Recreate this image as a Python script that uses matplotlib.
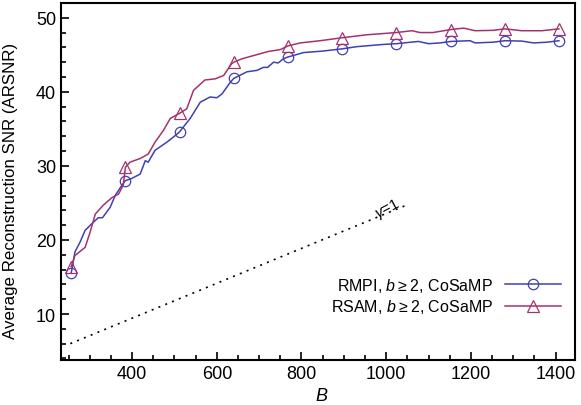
import numpy as np
import matplotlib
matplotlib.use("Agg")
from matplotlib import pyplot as plt

plt.rcParams['font.family'] = ['Liberation Sans', 'DejaVu Sans']
plt.rcParams['mathtext.fontset'] = 'custom'
plt.rcParams['mathtext.rm'] = 'Liberation Sans'
plt.rcParams['mathtext.it'] = 'Liberation Sans:italic'

# RMPI, b>=2, CoSaMP
rmpi_B = [256, 265, 277, 289, 305, 320, 330, 348, 360, 376, 384, 399, 419, 431, 438,
          454, 482, 502, 512, 537, 561, 584, 600, 612, 632, 640, 671, 695, 710, 720,
          734, 745, 757, 768, 805, 850, 896, 931, 994, 1024, 1076, 1100, 1127, 1152,
          1198, 1210, 1253, 1280, 1320, 1348, 1380, 1408]
rmpi_snr = [15.5, 18.4, 19.7, 21.3, 22.2, 23.0, 23.0, 24.4, 26.0, 27.4, 28.0, 28.3, 28.9, 30.7, 30.5,
            32.1, 33.2, 34.1, 34.6, 36.4, 38.6, 39.3, 39.2, 39.7, 41.3, 41.8, 42.7, 42.9, 43.3, 43.3,
            44.0, 43.9, 44.45, 44.7, 45.3, 45.5, 45.8, 46.1, 46.4, 46.5, 46.8, 46.5, 46.6, 46.8,
            46.9, 46.6, 46.7, 46.9, 46.85, 46.6, 46.7, 46.9]

# RSAM, b>=2, CoSaMP
rsam_B = [256, 265, 289, 301, 313, 332, 352, 368, 379, 384, 395, 419, 438, 454, 474,
          490, 512, 529, 545, 572, 596, 616, 635, 640, 659, 687, 722, 750, 768, 797,
          844, 896, 954, 1024, 1061, 1080, 1110, 1152, 1183, 1210, 1253, 1280, 1320,
          1368, 1408]
rsam_snr = [16.4, 17.9, 19.0, 21.1, 23.5, 24.7, 25.7, 26.2, 27.4, 29.8, 30.5, 31.0, 31.6, 33.2, 34.8,
            36.4, 37.1, 37.7, 40.2, 41.6, 41.75, 42.2, 43.8, 44.0, 44.45, 44.9, 45.45, 45.7, 46.2, 46.6,
            46.9, 47.3, 47.7, 48.0, 48.25, 48.0, 48.0, 48.4, 48.6, 48.25, 48.3, 48.5, 48.25,
            48.25, 48.5]

marker_B = [256, 384, 512, 640, 768, 896, 1024, 1152, 1280, 1408]

# gamma = 1 reference line
gamma_B = [254, 1048]
gamma_snr = [6.0, 24.7]

blue = '#4040b2'
purple = '#a3336e'

fig = plt.figure(figsize=(5.81, 4.06), dpi=100)
ax = fig.add_axes([0.105, 0.111, 0.8847, 0.8793])

rmpi_marks = [i for i, b in enumerate(rmpi_B) if b in marker_B]
rsam_marks = [i for i, b in enumerate(rsam_B) if b in marker_B]

ax.plot(rmpi_B, rmpi_snr, color=blue, lw=1.1, marker='o', markevery=rmpi_marks,
        ms=7.5, mfc='none', mec=blue, mew=0.9, label='RMPI, $b$\u2009≥\u20092, CoSaMP')
ax.plot(rsam_B, rsam_snr, color=purple, lw=1.1, marker='^', markevery=rsam_marks,
        ms=8, mfc='none', mec=purple, mew=0.9, label='RSAM, $b$\u2009≥\u20092, CoSaMP')
ax.plot(gamma_B, gamma_snr, color='black', lw=1.2, linestyle=(0, (1.2, 3.2)))
ax.text(1003, 24.3, r'$\gamma$=1', rotation=28, fontsize=11, ha='center', va='center')

ax.set_xlim(232, 1446)
ax.set_ylim(3.8, 52)
ax.set_xticks([400, 600, 800, 1000, 1200, 1400])
ax.set_xticks(np.arange(250, 1450, 50), minor=True)
ax.set_yticks([10, 20, 30, 40, 50])
ax.set_yticks(np.arange(4, 52, 2), minor=True)
ax.tick_params(which='both', direction='in', top=False, right=False, labelsize=13, width=1.2)
ax.tick_params(which='major', length=6)
ax.tick_params(which='minor', length=3.5)
for s in ax.spines.values():
    s.set_linewidth(1.5)

ax.set_xlabel(r'$B$', fontsize=13)
ax.xaxis.set_label_coords(0.507, -0.075)
ax.set_ylabel('Average Reconstruction SNR (ARSNR)', fontsize=12.2)
ax.yaxis.set_label_coords(-0.084, 0.475)

ax.legend(loc='center right', bbox_to_anchor=(1.0, 0.18), frameon=False, markerfirst=False,
          fontsize=11.5, handlelength=3.5, labelspacing=0.2, handletextpad=0.75)

fig.savefig('out.png', dpi=100)
